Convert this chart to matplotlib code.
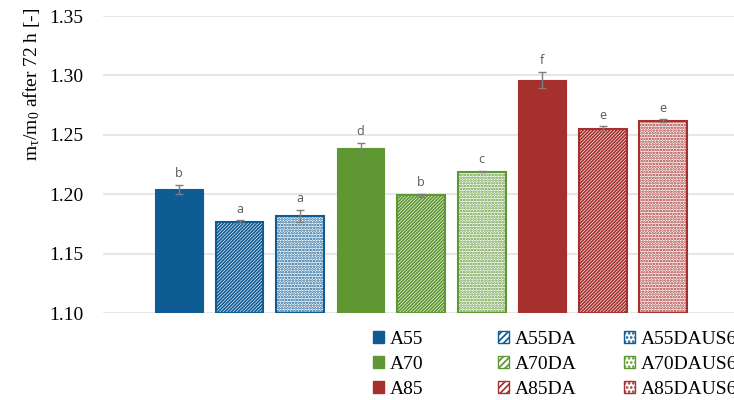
import numpy as np
import matplotlib
matplotlib.use("Agg")
import matplotlib.pyplot as plt
from matplotlib.patches import Patch

plt.rcParams['font.family'] = ['Liberation Serif', 'DejaVu Serif']
plt.rcParams['mathtext.default'] = 'regular'
plt.rcParams['hatch.linewidth'] = 1.25

# data
samples = ["A55", "A55DA", "A55DAUS60",
           "A70", "A70DA", "A70DAUS60",
           "A85", "A85DA", "A85DAUS60"]
means = [1.204, 1.177, 1.182, 1.239, 1.199, 1.219, 1.296, 1.255, 1.262]
errors = [0.004, 0.001, 0.005, 0.004, 0.001, 0.0005, 0.007, 0.002, 0.001]
letters = ["b", "a", "a", "d", "b", "c", "f", "e", "e"]

blue = '#0F5C94'
green = '#5F9733'
red = '#A6302D'
colors = [blue, blue, blue, green, green, green, red, red, red]
hatches = [None, '//////////', '......'] * 3

fig = plt.figure(figsize=(7.34, 4.0), dpi=100)
ax = fig.add_axes([103 / 734, 0.2175, 1 - 103 / 734, 0.7425])

x = np.arange(len(samples))
for i in range(len(samples)):
    if hatches[i] is None:
        ax.bar(x[i], means[i] - 1.10, bottom=1.10, width=0.79, color=colors[i],
               edgecolor=colors[i], linewidth=0.8, zorder=2)
    else:
        ax.bar(x[i], means[i] - 1.10, bottom=1.10, width=0.79, facecolor='white',
               edgecolor=colors[i], hatch=hatches[i], linewidth=1.5, zorder=2)
    ax.errorbar(x[i], means[i], yerr=errors[i], color='#7F7F7F', capsize=3,
                elinewidth=1, capthick=1, zorder=3)
    ax.text(x[i], means[i] + errors[i] + 0.004, letters[i], ha='center', va='bottom',
            fontsize=9, color='#595959', family='Open Sans')

ax.set_xlim(-1.256, 9.17)
ax.set_ylim(1.10, 1.35)
ax.set_yticks(np.arange(1.10, 1.351, 0.05))
ax.set_yticklabels(["%.2f" % v for v in np.arange(1.10, 1.351, 0.05)], fontsize=14)
ax.set_xticks([])
ax.tick_params(axis='y', length=0, pad=14)
ax.grid(axis='y', color='#E3E3E3', linewidth=1.2, zorder=0)
ax.set_axisbelow(True)
for s in ax.spines.values():
    s.set_visible(False)

ax.set_ylabel(r'$m_\tau/m_0$' + ' after 72 h [-]', fontsize=14, va='center')
ax.yaxis.set_label_coords(-0.114, 0.77)

# legend: three columns placed like the original
col_x = [373 / 734, 498 / 734, 624 / 734]
for c in range(3):
    handles = []
    for r in range(3):
        i = r * 3 + c
        if hatches[i] is None:
            handles.append(Patch(facecolor=colors[i], edgecolor=colors[i], label=samples[i]))
        else:
            handles.append(Patch(facecolor='white', edgecolor=colors[i], hatch='/////' if '/' in hatches[i] else '....',
                                 label=samples[i]))
    fig.legend(handles=handles, loc='upper left', bbox_to_anchor=(col_x[c], 0.172),
               frameon=False, fontsize=14, borderpad=0, borderaxespad=0,
               handlelength=0.55, handleheight=0.55, handletextpad=0.3,
               labelspacing=0.4)

fig.savefig("out.png", dpi=100)
